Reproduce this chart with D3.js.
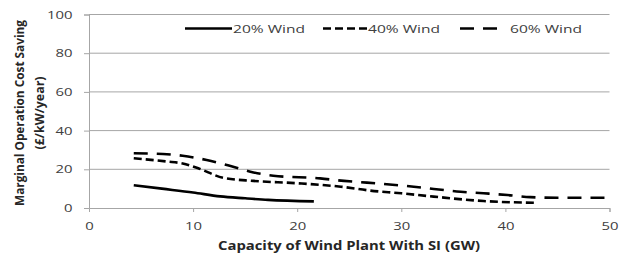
<!DOCTYPE html>
<html><head><meta charset="utf-8">
<script src="https://cdn.jsdelivr.net/npm/d3@7"></script>
<style>body{margin:0;background:#fff}</style>
</head><body>
<svg id="c" width="624" height="257"></svg>
<script>
const xTicks = [0, 10, 20, 30, 40, 50];
const yTicks = [0, 20, 40, 60, 80, 100];
const seriesNames = ["20% Wind", "40% Wind", "60% Wind"];
const wind20 = [[4.3, 11.8], [7, 10], [10, 8], [12.6, 6], [15, 5], [17.2, 4.2], [21.6, 3.4]];
const wind40 = [[4.3, 25.7], [7.5, 24], [9, 23], [10.5, 20.5], [12.9, 15.6], [15.8, 14], [20, 12.8], [24.2, 11], [27, 9], [30, 7.6], [33.1, 5.9], [37.9, 3.6], [42.8, 2.7]];
const wind60 = [[4.3, 28.3], [7.1, 27.9], [9, 27], [11.3, 24.8], [13.6, 21.7], [15.8, 18.4], [17.7, 16.7], [22.2, 15.3], [24.5, 14], [26.7, 13.1], [31.2, 11], [35.7, 8.4], [37.9, 7.6], [40.2, 6.7], [42.4, 5.6], [45, 5.3], [50, 5.3]];

const svg = d3.select("#c");
const x = d3.scaleLinear().domain([0, 50]).range([89, 609.5]);
const y = d3.scaleLinear().domain([0, 100]).range([208, 14.5]);
const font = "'Open Sans', sans-serif";

// gridlines
svg.append("g").selectAll("line").data(yTicks.filter(d => d > 0)).join("line")
  .attr("x1", x(0)).attr("x2", x(50)).attr("y1", d => y(d)).attr("y2", d => y(d))
  .attr("stroke", "#a6a6a6").attr("stroke-width", 1);

// axes
const xAxis = svg.append("g").attr("transform", `translate(0,${y(0)})`)
  .call(d3.axisBottom(x).tickValues(xTicks).tickSize(4).tickPadding(10));
const yAxis = svg.append("g").attr("transform", `translate(${x(0)},0)`)
  .call(d3.axisLeft(y).tickValues(yTicks).tickSize(5).tickPadding(11.5));
[xAxis, yAxis].forEach(a => {
  a.select(".domain").attr("stroke", "#a6a6a6");
  a.selectAll(".tick line").attr("stroke", "#a6a6a6");
  a.selectAll("text").attr("font-family", font).attr("font-size", 11).attr("fill", "#404040")
    .attr("textLength", d => String(d).length * 8.5).attr("lengthAdjust", "spacingAndGlyphs");
});
xAxis.selectAll(".tick:first-of-type line").remove();

const line = d3.line().x(d => x(d[0])).y(d => y(d[1])).curve(d3.curveMonotoneX);
const styles = [
  { data: wind20, dash: null },
  { data: wind40, dash: "8,4" },
  { data: wind60, dash: "14,9" }
];
styles.forEach(s => {
  svg.append("path").datum(s.data).attr("d", line)
    .attr("fill", "none").attr("stroke", "#000").attr("stroke-width", 2.6)
    .attr("stroke-dasharray", s.dash);
});

// legend
const legend = [
  { name: seriesNames[0], x1: 185, x2: 232, tx: 233, dash: null },
  { name: seriesNames[1], x1: 323, x2: 368, tx: 368, dash: "8,4" },
  { name: seriesNames[2], x1: 460, x2: 497, tx: 510, dash: "14,9" }
];
const lg = svg.append("g");
legend.forEach(l => {
  lg.append("line").attr("x1", l.x1).attr("x2", l.x2).attr("y1", 28.5).attr("y2", 28.5)
    .attr("stroke", "#000").attr("stroke-width", 2.6).attr("stroke-dasharray", l.dash);
  lg.append("text").attr("x", l.tx).attr("y", 32.5).text(l.name)
    .attr("font-family", font).attr("font-size", 10.5).attr("fill", "#404040")
    .attr("textLength", 72).attr("lengthAdjust", "spacingAndGlyphs");
});

// axis titles
svg.append("text").attr("x", 349).attr("y", 249.5).attr("text-anchor", "middle")
  .attr("font-family", font).attr("font-size", 13).attr("font-weight", "bold").attr("fill", "#262626")
  .attr("textLength", 262).attr("lengthAdjust", "spacingAndGlyphs")
  .text("Capacity of Wind Plant With SI (GW)");
const yt = svg.append("text").attr("transform", "translate(0,113) rotate(-90)")
  .attr("text-anchor", "middle").attr("font-family", font).attr("font-size", 12).attr("font-weight", "bold").attr("fill", "#262626");
yt.append("tspan").attr("x", 0).attr("y", 23.5).attr("textLength", 186).attr("lengthAdjust", "spacingAndGlyphs")
  .text("Marginal Operation Cost Saving");
yt.append("tspan").attr("x", 0).attr("y", 44).attr("textLength", 73).attr("lengthAdjust", "spacingAndGlyphs")
  .text("(£/kW/year)");
</script>
</body></html>
